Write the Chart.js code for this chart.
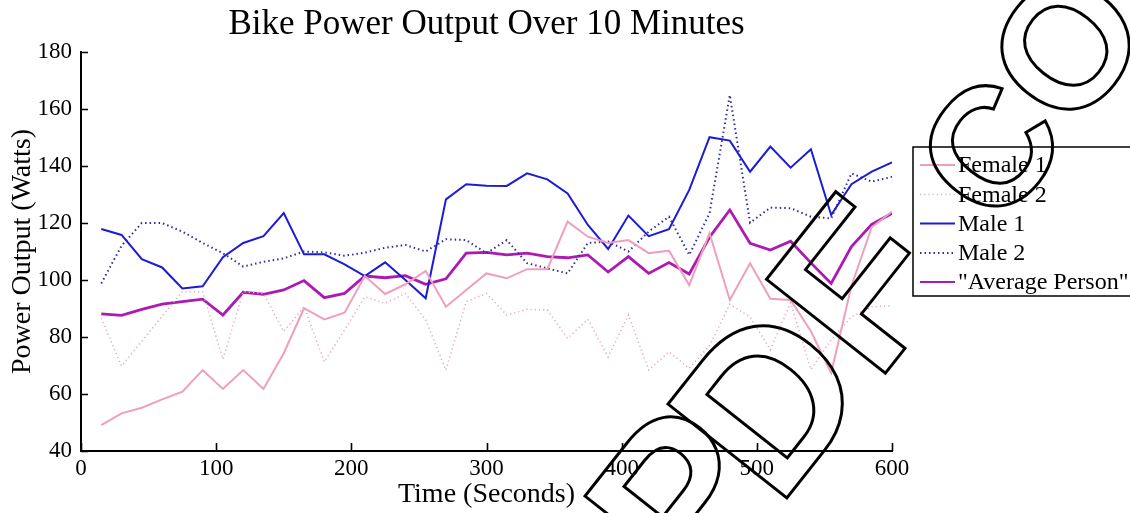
<!DOCTYPE html>
<html>
<head>
<meta charset="utf-8">
<script src="https://cdn.jsdelivr.net/npm/chart.js@4/dist/chart.umd.min.js"></script>
<style>
  html, body { margin: 0; padding: 0; background: #fff; }
  #wrap { width: 1130px; height: 513px; position: relative; }
</style>
</head>
<body>
<div id="wrap"><canvas id="c" width="1130" height="513"></canvas></div>
<script>
// Sample times (seconds), one reading every 15 s
const times = [15, 30, 45, 60, 75, 90, 105, 120, 135, 150, 165, 180, 195, 210, 225, 240, 255, 270, 285, 300,
               315, 330, 345, 360, 375, 390, 405, 420, 435, 450, 465, 480, 495, 510, 525, 540, 555, 570, 585, 600];

// Power output per rider (watts)
const female1 = [49.1, 53.2, 55.2, 58.1, 60.8, 68.4, 61.8, 68.4, 61.8, 74.3, 90.1, 86.2, 88.5, 101.4, 95.1, 98.5, 103.2, 90.6, 96.5, 102.3,
                 100.6, 103.8, 103.8, 120.5, 115.2, 113.0, 114.0, 109.4, 110.3, 98.2, 116.4, 93.0, 105.9, 93.4, 93.0, 82.0, 67.4, 98.0, 118.5, 124.0];
const female2 = [86.6, 69.8, 78.5, 87.3, 95.9, 95.9, 72.2, 95.9, 95.3, 81.9, 90.6, 71.3, 82.5, 94.1, 91.8, 95.3, 86.0, 68.4, 92.4, 95.3,
                 87.7, 89.7, 89.5, 79.5, 86.2, 73.0, 87.7, 68.4, 74.8, 69.0, 77.0, 91.5, 87.0, 75.5, 92.0, 68.6, 79.0, 87.1, 90.6, 91.0];
const male1   = [117.9, 115.8, 107.3, 104.4, 97.0, 97.8, 108.0, 113.0, 115.4, 123.5, 109.0, 109.0, 105.5, 101.4, 106.2, 100.0, 93.6, 128.3, 133.6, 133.1,
                 133.0, 137.4, 135.3, 130.4, 119.3, 110.9, 122.6, 115.4, 117.8, 131.6, 150.1, 148.9, 138.0, 146.8, 139.4, 145.9, 122.8, 133.6, 138.0, 141.3];
const male2   = [98.8, 112.0, 120.0, 120.0, 117.0, 113.0, 109.4, 104.7, 106.4, 107.6, 110.0, 109.7, 108.5, 109.6, 111.3, 112.3, 110.0, 114.3, 114.0, 109.4,
                 114.0, 105.9, 104.1, 102.3, 113.0, 113.5, 110.0, 117.0, 122.2, 108.8, 123.4, 164.9, 120.1, 125.4, 125.2, 122.2, 121.6, 137.4, 134.5, 136.2];
const average = [88.1, 87.6, 89.7, 91.5, 92.4, 93.3, 87.7, 95.7, 95.0, 96.5, 99.8, 93.8, 95.3, 101.4, 100.8, 101.5, 98.5, 100.4, 109.4, 109.7,
                 108.8, 109.4, 108.2, 107.8, 108.8, 102.8, 108.2, 102.3, 106.1, 102.1, 115.0, 124.6, 112.9, 110.5, 113.6, 106.0, 98.8, 111.7, 119.5, 123.4];

// Axis ticks
const xTicks = [0, 100, 200, 300, 400, 500, 600];
const yTicks = [40, 60, 80, 100, 120, 140, 160, 180];

const seriesNames = ['Female 1', 'Female 2', 'Male 1', 'Male 2', '"Average Person"'];

const SERIF = '"Liberation Serif", "Times New Roman", serif';

function pts(values) {
  return values.map((v, i) => ({ x: times[i], y: v }));
}

const styles = [
  { color: 'rgb(240,158,192)', width: 2,   dash: [] },
  { color: 'rgb(222,172,196)', width: 1.6, dash: [1.2, 3] },
  { color: 'rgb(28,28,215)',   width: 2,   dash: [] },
  { color: 'rgb(48,48,150)',   width: 2,   dash: [1.5, 3] },
  { color: 'rgb(172,26,178)',  width: 2.8, dash: [] }
];
const seriesData = [female1, female2, male1, male2, average];

const datasets = seriesData.map((vals, k) => ({
  label: seriesNames[k],
  data: pts(vals),
  borderColor: styles[k].color,
  backgroundColor: styles[k].color,
  borderWidth: styles[k].width,
  borderDash: styles[k].dash,
  pointRadius: 0,
  tension: 0,
  fill: false
}));

// Inward tick marks on both axes
const innerTicks = {
  id: 'innerTicks',
  afterDraw(chart) {
    const { ctx, chartArea: a } = chart;
    const xs = chart.scales.x, ys = chart.scales.y;
    ctx.save();
    ctx.strokeStyle = '#000';
    ctx.lineWidth = 1.6;
    ctx.beginPath();
    yTicks.forEach(v => {
      const py = Math.round(ys.getPixelForValue(v)) + 0.5;
      ctx.moveTo(a.left, py);
      ctx.lineTo(a.left + 7, py);
    });
    xTicks.forEach(v => {
      const px = Math.round(xs.getPixelForValue(v)) + 0.5;
      ctx.moveTo(px, a.bottom);
      ctx.lineTo(px, a.bottom - 8);
    });
    ctx.stroke();
    ctx.restore();
  }
};

// Boxed legend on the right-hand side
const boxLegend = {
  id: 'boxLegend',
  afterDraw(chart) {
    const { ctx } = chart;
    const left = 913, top = 147, w = 240, h = 149;
    const rowY = [165, 194.5, 223.5, 253, 282];
    ctx.save();
    ctx.fillStyle = '#fff';
    ctx.fillRect(left, top, w, h);
    ctx.strokeStyle = '#000';
    ctx.lineWidth = 1.5;
    ctx.strokeRect(left, top, w, h);
    chart.data.datasets.forEach((ds, k) => {
      const y = rowY[k];
      ctx.strokeStyle = ds.borderColor;
      ctx.lineWidth = Math.min(ds.borderWidth, 2.2);
      ctx.setLineDash(ds.borderDash || []);
      ctx.beginPath();
      ctx.moveTo(920, y);
      ctx.lineTo(955, y);
      ctx.stroke();
      ctx.setLineDash([]);
      ctx.fillStyle = '#000';
      ctx.font = '24px ' + SERIF;
      ctx.textBaseline = 'middle';
      ctx.textAlign = 'left';
      ctx.fillText(ds.label, 958, y + 1);
    });
    ctx.restore();
  }
};

// Diagonal outlined watermark lettering, laid out along a rotated baseline
const watermark = {
  id: 'watermark',
  afterDraw(chart) {
    const { ctx } = chart;
    const glyphs = [
      { ch: 'P', size: 220, x: 23,    y: -12,   centred: false },
      { ch: 'D', size: 220, x: 146.7, y: -4,    centred: false },
      { ch: 'F', size: 220, x: 305.5, y: -4,    centred: false },
      { ch: 'C', size: 168, x: 562,   y: -61.5, centred: true },
      { ch: 'O', size: 175, x: 689,   y: -65,   centred: true }
    ];
    ctx.save();
    ctx.translate(690, 627);
    ctx.rotate(-51.7 * Math.PI / 180);
    ctx.textBaseline = 'alphabetic';
    ctx.textAlign = 'left';
    ctx.strokeStyle = '#000';
    ctx.lineWidth = 3;
    ctx.lineJoin = 'miter';
    glyphs.forEach(g => {
      ctx.font = 'bold ' + g.size + 'px "Liberation Sans", Arial, sans-serif';
      let x = g.x, y = g.y;
      if (g.centred) {
        const m = ctx.measureText(g.ch);
        x = g.x - (m.actualBoundingBoxRight - m.actualBoundingBoxLeft) / 2;
        y = g.y - (m.actualBoundingBoxDescent - m.actualBoundingBoxAscent) / 2;
      }
      ctx.strokeText(g.ch, x, y);
    });
    ctx.restore();
  }
};

new Chart(document.getElementById('c'), {
  type: 'line',
  data: { datasets },
  plugins: [innerTicks, boxLegend, watermark],
  options: {
    responsive: false,
    animation: false,
    layout: { padding: { left: 0, top: 0, right: 238, bottom: 0 } },
    plugins: {
      legend: { display: false },
      tooltip: { enabled: false },
      title: {
        display: true,
        text: 'Bike Power Output Over 10 Minutes',
        fullSize: false,
        color: '#000',
        font: { family: SERIF, size: 35, weight: 'normal' },
        padding: { top: 4, bottom: 6 }
      }
    },
    scales: {
      x: {
        type: 'linear',
        min: 0, max: 600,
        afterBuildTicks: s => { s.ticks = xTicks.map(v => ({ value: v })); },
        afterFit: s => { s.height = 62; },
        grid: { display: false, drawTicks: false },
        border: { display: true, color: '#000', width: 2 },
        ticks: { color: '#000', padding: 4, maxRotation: 0, font: { family: SERIF, size: 23 } },
        title: {
          display: true, text: 'Time (Seconds)', color: '#000',
          font: { family: SERIF, size: 28 }, padding: { top: 0, bottom: 2 }
        }
      },
      y: {
        min: 40, max: 180,
        afterBuildTicks: s => { s.ticks = yTicks.map(v => ({ value: v })); },
        afterFit: s => { s.width = 81; },
        grid: { display: false, drawTicks: false },
        border: { display: true, color: '#000', width: 2 },
        ticks: { color: '#000', padding: 9, font: { family: SERIF, size: 23 } },
        title: {
          display: true, text: 'Power Output (Watts)', color: '#000',
          font: { family: SERIF, size: 28 }, padding: { top: 6, bottom: 0 }
        }
      }
    }
  }
});
</script>
</body>
</html>
